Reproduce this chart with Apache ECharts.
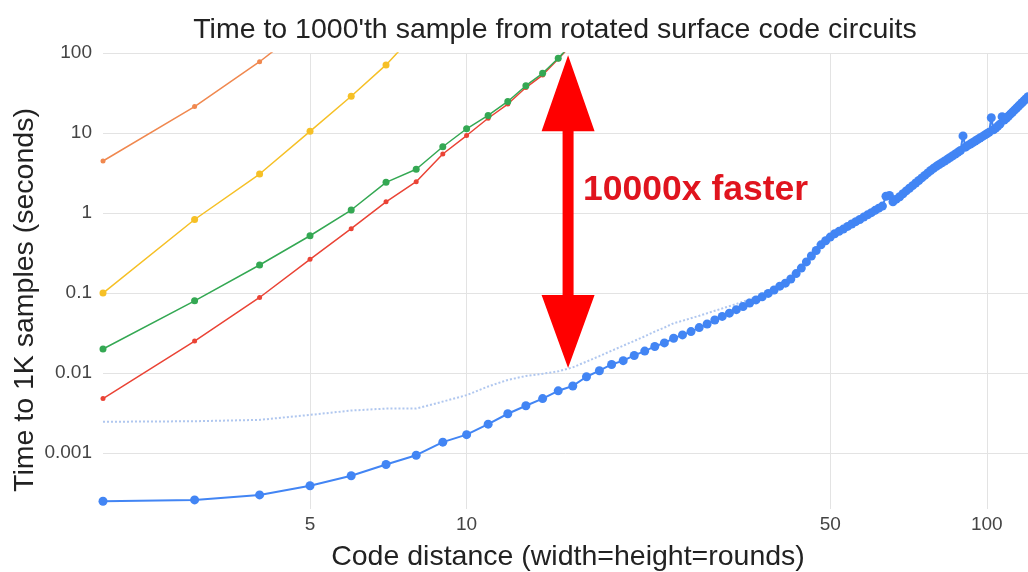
<!DOCTYPE html>
<html><head><meta charset="utf-8">
<script src="https://cdn.jsdelivr.net/npm/echarts@6/dist/echarts.min.js"></script>
<style>html,body{margin:0;padding:0;background:#fff}#c{width:1028px;height:572px}</style>
</head><body><div id="c"></div>
<script>
const titleText = "Time to 1000'th sample from rotated surface code circuits";
const xTitle = "Code distance (width=height=rounds)";
const yTitle = "Time to 1K samples (seconds)";
const annotationText = "10000x faster";
const xTicks = [5, 10, 50, 100];

const orangeD = [2, 3, 4, 5];
const orangeV = [4.47, 21.4, 77.8, 240];
const yellowD = [2, 3, 4, 5, 6, 7, 8];
const yellowV = [0.1, 0.83, 3.07, 10.5, 28.8, 71, 180];
const greenD = [2, 3, 4, 5, 6, 7, 8, 9, 10, 11, 12, 13, 14, 15, 16];
const greenV = [0.02, 0.08, 0.224, 0.52, 1.09, 2.42, 3.52, 6.74, 11.3, 16.6, 24.8, 39, 55.7, 86, 135];
const redD = [2, 3, 4, 5, 6, 7, 8, 9, 10, 11, 12, 13, 14, 15, 16];
const redV = [0.0048, 0.0251, 0.088, 0.264, 0.637, 1.38, 2.46, 5.47, 9.3, 15.3, 23, 37, 53, 84, 132];
const dottedD = [2, 3, 4, 5, 6, 7, 8, 9, 10, 11, 12, 13, 14, 15, 16, 17, 18, 19, 20, 21, 22, 23, 24, 25, 26, 28, 30, 33, 36, 40, 43, 44];
const dottedV = [0.00246, 0.0025, 0.0026, 0.003, 0.0034, 0.0036, 0.0036, 0.0044, 0.0053, 0.0068, 0.0082, 0.0092, 0.0098, 0.0105, 0.0118, 0.0139, 0.0163, 0.019, 0.022, 0.0252, 0.0288, 0.033, 0.037, 0.042, 0.045, 0.052, 0.06, 0.073, 0.089, 0.115, 0.175, 0.205];
const blueD = [2, 3, 4, 5, 6, 7, 8, 9, 10, 11, 12, 13, 14, 15, 16, 17, 18, 19, 20, 21, 22, 23, 24, 25, 26, 27, 28, 29, 30, 31, 32, 33, 34, 35, 36, 37, 38, 39, 40, 41, 42, 43, 44, 45, 46, 47, 48, 49, 50, 51, 52, 53, 54, 55, 56, 57, 58, 59, 60, 61, 62, 63, 64, 65, 66, 67, 68, 69, 70, 71, 72, 73, 74, 75, 76, 77, 78, 79, 80, 81, 82, 83, 84, 85, 86, 87, 88, 89, 90, 91, 92, 93, 94, 95, 96, 97, 98, 99, 100, 101, 102, 103, 104, 105, 106, 107, 108, 109, 110, 111, 112, 113, 114, 115, 116, 117, 118, 119, 120];
const blueV = [0.00025, 0.00026, 0.0003, 0.00039, 0.00052, 0.00072, 0.00094, 0.00137, 0.0017, 0.0023,
  0.0031, 0.0039, 0.0048, 0.006, 0.0069, 0.009, 0.0107, 0.0128, 0.0143, 0.0166,
  0.0188, 0.0215, 0.0238, 0.0272, 0.03, 0.033, 0.037, 0.041, 0.046, 0.051,
  0.056, 0.062, 0.068, 0.075, 0.082, 0.09, 0.099, 0.109, 0.122, 0.133,
  0.15, 0.175, 0.205, 0.245, 0.29, 0.34, 0.4, 0.45, 0.5, 0.55,
  0.59, 0.63, 0.68, 0.73, 0.78, 0.83, 0.89, 0.95, 1.01, 1.08,
  1.15, 1.22, 1.62, 1.66, 1.38, 1.49, 1.6, 1.74, 1.89, 2.04,
  2.2, 2.37, 2.55, 2.75, 2.95, 3.17, 3.4, 3.62, 3.83, 4.04,
  4.25, 4.47, 4.7, 4.95, 5.2, 5.47, 5.75, 6.05, 9.2, 6.65,
  7.0, 7.3, 7.6, 7.95, 8.3, 8.65, 9.0, 9.4, 9.8, 10.2,
  15.5, 11.0, 11.5, 12.2, 12.9, 16.0, 14.5, 15.3, 16.2, 17.2,
  18.2, 19.3, 20.4, 21.6, 22.8, 24.1, 25.5, 26.9, 28.4];

(function () {
const pairs = (d, v) => d.map((x, i) => [x, v[i]]);
const FONT = "'Liberation Sans', Arial, sans-serif";

const chart = echarts.init(document.getElementById('c'), null, { renderer: 'canvas' });

function lineSeries(name, data, color, size, width, z) {
  return {
    name, type: 'line', data, z,
    symbol: 'circle', symbolSize: size, showSymbol: true,
    lineStyle: { color, width },
    itemStyle: { color },
    clip: true, silent: true
  };
}

const option = {
  animation: false,
  backgroundColor: '#fff',
  grid: { left: 103, right: 0, top: 53, bottom: 63, containLabel: false },
  xAxis: {
    type: 'log', logBase: 10, min: 2, max: 120,
    axisLine: { show: false }, axisTick: { show: false },
    axisLabel: { show: false }, splitLine: { show: false }
  },
  yAxis: {
    type: 'log', logBase: 10, min: 0.0002, max: 100, splitNumber: 6,
    axisLine: { show: false }, axisTick: { show: false },
    axisLabel: {
      showMinLabel: false, color: '#444', fontSize: 19, fontFamily: FONT, margin: 11,
      formatter: v => String(Number(Number(v).toPrecision(6)))
    },
    splitLine: { show: true, showMinLine: false, lineStyle: { color: '#e3e3e3', width: 1 } }
  },
  series: [
    Object.assign(lineSeries('dotted', pairs(dottedD, dottedV), '#b3c9ef', 0, 2, 2), {
      symbol: 'none', showSymbol: false,
      lineStyle: { color: '#b0c7ef', width: 2, type: [2, 2] },
      markLine: {
        silent: true, symbol: 'none', animation: false, z: 1,
        lineStyle: { color: '#e3e3e3', width: 1, type: 'solid' },
        label: { show: true, position: 'start', distance: 6, color: '#444', fontSize: 19, fontFamily: FONT,
          formatter: p => String(p.value) },
        emphasis: { disabled: true },
        data: xTicks.map(t => [{ coord: [t, 0.0002], value: t }, { coord: [t, 100] }])
      }
    }),
    lineSeries('blue', pairs(blueD, blueV), '#4285f4', 9, 2, 3),
    lineSeries('red', pairs(redD, redV), '#ea4335', 5, 1.5, 4),
    lineSeries('green', pairs(greenD, greenV), '#34a853', 7, 1.5, 5),
    lineSeries('yellow', pairs(yellowD, yellowV), '#f6c026', 7, 1.5, 6),
    lineSeries('orange', pairs(orangeD, orangeV), '#f0884f', 5, 1.5, 7)
  ]
};
chart.setOption(option);

// annotation anchored to data coordinates
const arrowX = 15.67, arrowTopV = 94, arrowBotV = 0.0116, labelV = 1.95;
const pTop = chart.convertToPixel({ xAxisIndex: 0, yAxisIndex: 0 }, [arrowX, arrowTopV]);
const pBot = chart.convertToPixel({ xAxisIndex: 0, yAxisIndex: 0 }, [arrowX, arrowBotV]);
const pLab = chart.convertToPixel({ xAxisIndex: 0, yAxisIndex: 0 }, [arrowX, labelV]);
const xc = pTop[0], yt = pTop[1], yb = pBot[1];
const hw = 26.5, sw = 5.5, hlTop = 76, hlBot = 73;
chart.setOption({
  graphic: [
    { type: 'text', x: 555, y: 30, z: 100, silent: true,
      style: { text: titleText, fontSize: 28.5, fontFamily: FONT, fill: '#222', align: 'center', verticalAlign: 'middle' } },
    { type: 'text', x: 568, y: 557, z: 100, silent: true,
      style: { text: xTitle, fontSize: 28.5, fontFamily: FONT, fill: '#222', align: 'center', verticalAlign: 'middle' } },
    { type: 'text', x: 25, y: 300, rotation: Math.PI / 2, z: 100, silent: true,
      style: { text: yTitle, fontSize: 28.5, fontFamily: FONT, fill: '#222', align: 'center', verticalAlign: 'middle' } },
    { type: 'polygon', z: 100, silent: true,
      shape: { points: [
        [xc, yt], [xc + hw, yt + hlTop], [xc + sw, yt + hlTop], [xc + sw, yb - hlBot], [xc + hw, yb - hlBot],
        [xc, yb], [xc - hw, yb - hlBot], [xc - sw, yb - hlBot], [xc - sw, yt + hlTop], [xc - hw, yt + hlTop]
      ] },
      style: { fill: '#ff0000' } },
    { type: 'text', x: xc + 15, y: pLab[1], z: 100, silent: true,
      style: { text: annotationText, fontSize: 35.5, fontWeight: 'bold', fontFamily: FONT, fill: '#e0141e', align: 'left', verticalAlign: 'middle' } }
  ]
});
})();
</script>
</body></html>
